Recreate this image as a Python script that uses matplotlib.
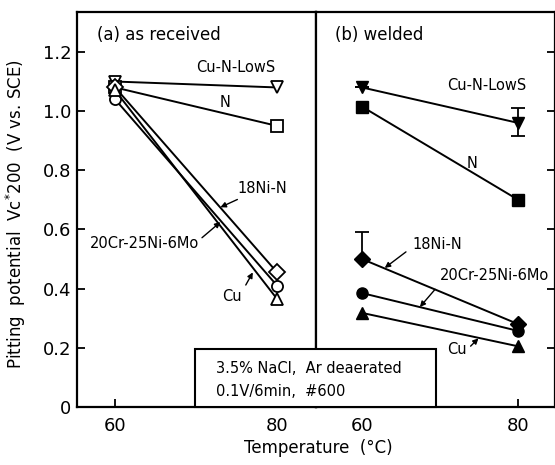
import matplotlib.pyplot as plt
from matplotlib.patches import Rectangle
from matplotlib.ticker import FuncFormatter

plt.rcParams['font.family'] = ['DejaVu Sans']

temps = [60, 80]
alloys = ['Cu-N-LowS', 'N', '18Ni-N', '20Cr-25Ni-6Mo', 'Cu']
markers = ['v', 's', 'D', 'o', '^']

# (a) as received
recv = {
    'Cu-N-LowS': [1.10, 1.08],
    'N': [1.08, 0.95],
    '18Ni-N': [1.08, 0.455],
    '20Cr-25Ni-6Mo': [1.04, 0.41],
    'Cu': [1.07, 0.365],
}
# (b) welded
weld = {
    'Cu-N-LowS': [1.08, 0.96],
    'N': [1.015, 0.70],
    '18Ni-N': [0.50, 0.28],
    '20Cr-25Ni-6Mo': [0.385, 0.257],
    'Cu': [0.318, 0.205],
}
# error bars on welded data (lower, upper)
weld_err = {
    'Cu-N-LowS': ([0.0, 0.045], [0.0, 0.05]),
    '18Ni-N': ([0.0, 0.0], [0.09, 0.0]),
}

W, H = 555, 465
fig = plt.figure(figsize=(W / 100, H / 100), dpi=100)
bot = 1 - 407 / H
hgt = 395 / H
axa = fig.add_axes([77 / W, bot, 239 / W, hgt])
axb = fig.add_axes([316 / W, bot, 239 / W, hgt], sharey=axa)

lw = 1.4
for name, m in zip(alloys, markers):
    axa.plot(temps, recv[name], color='black', lw=lw, marker=m, ms=8,
             mfc='white', mec='black', mew=1.3, zorder=3)
    axb.plot(temps, weld[name], color='black', lw=lw, marker=m, ms=8,
             mfc='black', mec='black', zorder=3)
    if name in weld_err:
        lo, hi = weld_err[name]
        axb.errorbar(temps, weld[name], yerr=[lo, hi], fmt='none',
                     ecolor='black', elinewidth=1.3, capsize=5, capthick=1.3)

axa.set_xlim(55.3, 84.8)
axb.set_xlim(54.1, 84.7)
axa.set_ylim(0, 1.335)

fmt = FuncFormatter(lambda v, p: '0' if v == 0 else f'{v:.1f}')
axa.set_yticks([0, 0.2, 0.4, 0.6, 0.8, 1.0, 1.2])
axa.yaxis.set_major_formatter(fmt)
for ax in (axa, axb):
    ax.set_xticks(temps)
    ax.tick_params(direction='in', length=6, width=1.3, labelsize=13, pad=7)
    for s in ax.spines.values():
        s.set_linewidth(1.6)
axb.tick_params(axis='y', left=False, right=True, labelleft=False)
axa.tick_params(axis='y', pad=4)

fs = 10.5
axa.text(57.8, 1.257, '(a) as received', fontsize=12, va='center')
axb.text(56.5, 1.257, '(b) welded', fontsize=12, va='center')

axa.text(74.9, 1.149, 'Cu-N-LowS', fontsize=fs, ha='center', va='center')
axa.text(73.6, 1.03, 'N', fontsize=fs, ha='center', va='center')
ap = dict(arrowstyle='-|>', color='black', lw=1.0, mutation_scale=8)
axa.annotate('18Ni-N', xy=(73.0, 0.675), xytext=(75.1, 0.74), fontsize=fs,
             va='center', arrowprops=dict(ap, shrinkA=2, shrinkB=0))
axa.annotate('20Cr-25Ni-6Mo', xy=(73.0, 0.625), xytext=(56.9, 0.554),
             fontsize=fs, va='center',
             arrowprops=dict(ap, shrinkA=0, shrinkB=0, relpos=(1, 0.7)))
axa.annotate('Cu', xy=(77.0, 0.455), xytext=(73.2, 0.372), fontsize=fs,
             va='center', arrowprops=dict(ap, shrinkA=2, shrinkB=0, relpos=(1, 0.8)))

axb.text(75.9, 1.085, 'Cu-N-LowS', fontsize=fs, ha='center', va='center')
axb.text(74.1, 0.824, 'N', fontsize=fs, ha='center', va='center')
axb.annotate('18Ni-N', xy=(62.9, 0.47), xytext=(66.4, 0.55), fontsize=fs,
             va='center', arrowprops=dict(ap, shrinkA=3, shrinkB=0, relpos=(0, 0.3)))
axb.annotate('20Cr-25Ni-6Mo', xy=(67.4, 0.338), xytext=(70.0, 0.443),
             fontsize=fs, va='center', annotation_clip=False,
             arrowprops=dict(ap, shrinkA=3, shrinkB=0, relpos=(0, 0)))
axb.annotate('Cu', xy=(74.9, 0.232), xytext=(70.9, 0.193), fontsize=fs,
             va='center', arrowprops=dict(ap, shrinkA=1, shrinkB=0, relpos=(1, 0.5)))

# condition box
fig.patches.append(Rectangle((195 / W, bot), (436 - 195) / W, (407 - 349) / H,
                             transform=fig.transFigure, facecolor='white',
                             edgecolor='black', lw=1.5, zorder=5))
fig.text(216 / W, 1 - 368 / H, '3.5% NaCl,  Ar deaerated', fontsize=10.5,
         va='center', zorder=6)
fig.text(216 / W, 1 - 391 / H, '0.1V/6min,  #600', fontsize=10.5,
         va='center', zorder=6)

fig.text(16 / W, 1 - 214 / H, 'Pitting  potential  Vc$^{*}$200  (V vs. SCE)',
         rotation=90, fontsize=12, ha='center', va='center')
fig.text(318 / W, 1 - 448 / H, 'Temperature  (°C)', fontsize=12,
         ha='center', va='center')

fig.savefig('out.png', dpi=100)
